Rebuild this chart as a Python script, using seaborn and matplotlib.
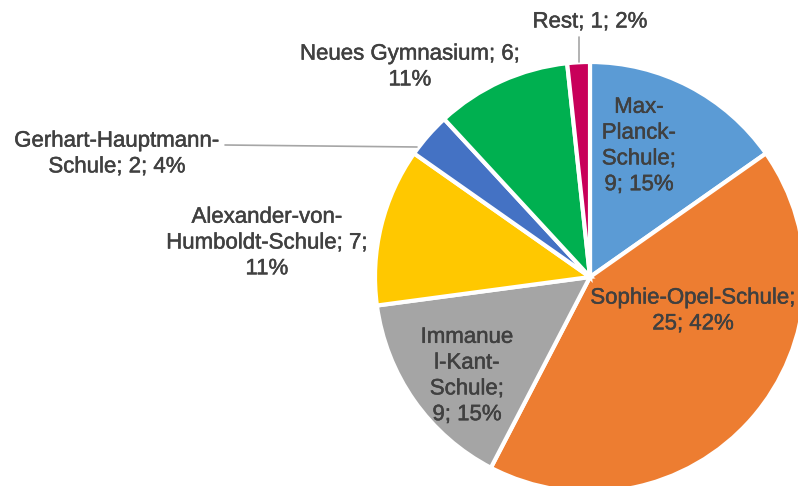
import matplotlib
matplotlib.use("Agg")
import matplotlib.pyplot as plt
import matplotlib.patheffects as pe
import seaborn as sns

# data (clockwise from 12 o'clock)
schools = ["Max-\nPlanck-\nSchule;", "Sophie-Opel-Schule;", "Immanue\nl-Kant-\nSchule;",
           "Alexander-von-\nHumboldt-Schule;", "Gerhart-Hauptmann-\nSchule;",
           "Neues Gymnasium;", "Rest;"]
counts = [9, 25, 9, 7, 2, 6, 1]
percent_labels = ["15%", "42%", "15%", "11%", "4%", "11%", "2%"]
colors = ["#5B9BD5", "#ED7D31", "#A5A5A5", "#FFC800", "#4472C4", "#00B050", "#C8005A"]

# label layout: how the count is joined, and the label centre in pixels (from top-left)
count_sep = ["\n", "\n", "\n", " ", " ", " ", " "]
pct_sep = [" ", " ", " ", "\n", " ", "\n", " "]
label_xy = [(639, 146), (693, 311), (467, 376), (267, 243), (117, 154), (410, 67), (590, 22)]

sns.set_theme(style="white")
plt.rcParams["font.family"] = ["Liberation Sans", "DejaVu Sans"]
text_color = "#404040"
H = 486

fig = plt.figure(figsize=(7.98, 4.86), dpi=100)
ax = fig.add_axes([0, 0, 1, 1])

cx, cy, r = 590, H - 277, 215
wedges, _ = ax.pie(counts, colors=sns.color_palette(colors), startangle=90,
                   counterclock=False, center=(cx, cy), radius=r, frame=True,
                   wedgeprops=dict(edgecolor="white", linewidth=3))
ax.set_xlim(0, 798)
ax.set_ylim(0, H)
ax.set_aspect("equal")
ax.axis("off")

# a thin stroke makes the text a bit heavier, closer to the original font
bold_ish = [pe.withStroke(linewidth=0.35, foreground=text_color)]
for i in range(len(counts)):
    txt = f"{schools[i]}{count_sep[i]}{counts[i]};{pct_sep[i]}{percent_labels[i]}"
    x, y = label_xy[i]
    ax.text(x, H - y, txt, ha="center", va="center", fontsize=16, color=text_color,
            linespacing=1.3, path_effects=bold_ish)

# leader lines for the small slices
ax.plot([225, 417], [H - 145, H - 147], color="#A6A6A6", lw=1.2)
ax.plot([579, 579], [H - 37, H - 62], color="#A6A6A6", lw=1.2)

fig.savefig("out.png", dpi=100)
